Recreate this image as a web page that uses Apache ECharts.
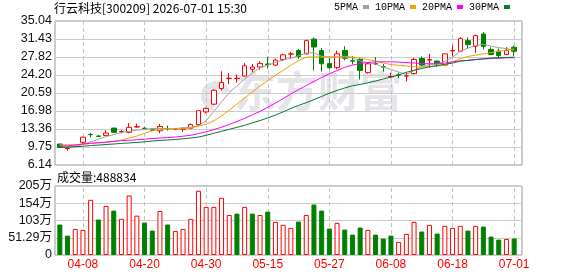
<!DOCTYPE html>
<html><head><meta charset="utf-8">
<script src="https://cdn.jsdelivr.net/npm/echarts@6/dist/echarts.min.js"></script>
<style>html,body{margin:0;padding:0;background:#fff}#c{width:578px;height:276px}</style>
</head><body><div id="c"></div>
<script>
const titleText = '行云科技[300209] 2026-07-01 15:30';
const watermarkText = '东方财富';
const dates = ['04-02','04-03','04-07','04-08','04-09','04-10','04-13','04-14','04-15','04-16','04-17','04-20','04-21','04-22','04-23','04-24','04-27','04-28','04-29','04-30','05-06','05-07','05-08','05-11','05-12','05-13','05-14','05-15','05-18','05-19','05-20','05-21','05-22','05-25','05-26','05-27','05-28','05-29','06-01','06-02','06-03','06-04','06-05','06-08','06-09','06-10','06-11','06-12','06-15','06-16','06-17','06-18','06-22','06-23','06-24','06-25','06-26','06-29','06-30','07-01'];
const xTickLabels = ['04-08','04-20','04-30','05-15','05-27','06-08','06-18','07-01'];
const opens  = [10.35,9.42,9.85,10.7,12.28,11.95,12.05,13.55,12.8,12.7,13.78,13.52,13.18,13.0,13.45,13.3,13.32,13.5,14.25,16.8,18.35,21.5,23.5,23.5,24.0,25.35,25.8,26.4,26.2,27.3,28.4,29.1,28.45,31.4,29.11,26.5,25.66,29.13,27.05,27.32,24.67,26.5,25.85,23.85,24.22,23.98,24.47,27.52,27.2,26.99,26.19,29.05,28.98,31.1,29.97,32.42,29.31,28.98,28.31,29.77];
const closes = [9.68,9.48,9.9,11.72,12.22,11.9,12.55,12.7,12.86,13.7,13.82,13.48,13.15,13.88,13.42,13.34,13.36,14.25,17.04,17.5,21.15,22.68,23.55,23.52,26.05,25.8,26.5,26.32,27.2,28.25,28.45,27.92,31.1,29.82,26.46,25.66,28.45,27.55,26.99,25.13,26.46,26.46,25.78,23.9,24.18,24.02,27.32,26.19,27.3,26.46,28.45,29.11,31.5,30.3,32.09,29.97,28.31,28.11,29.11,28.98];
const lows   = [9.6,9.0,9.78,10.38,11.7,11.8,12.0,12.68,12.5,12.5,13.65,13.28,13.08,12.5,13.05,13.1,12.8,13.3,14.2,16.5,18.2,21.1,22.35,22.7,23.85,24.8,25.3,25.5,26.0,27.0,27.5,27.45,28.3,25.1,24.9,25.33,25.33,27.15,26.33,23.3,24.47,26.19,24.87,23.54,23.54,22.88,24.33,25.99,25.66,25.79,25.99,27.98,28.84,29.44,28.64,29.31,28.18,27.52,28.18,27.98];
const highs  = [10.4,9.8,9.98,11.8,12.58,12.1,13.12,13.58,13.15,14.55,14.45,13.72,13.25,14.38,14.05,13.55,13.75,14.45,17.1,17.7,21.35,24.95,24.6,24.3,26.6,26.4,26.95,27.85,27.5,28.5,28.84,29.42,31.3,31.7,29.64,27.65,29.1,29.97,27.98,27.65,26.62,27.82,26.4,24.67,24.67,24.67,27.65,27.92,28.45,27.12,28.52,30.17,31.83,31.76,32.29,32.82,29.77,29.51,29.77,30.1];
const ma5  = [10.05,9.85,9.8,10.3,10.8,11.3,11.85,12.25,12.69,12.9,13.13,13.3,13.45,13.48,13.45,13.45,13.6,13.72,14.03,15.0,16.9,18.8,20.7,22.0,23.4,24.6,25.66,26.2,26.75,27.2,27.6,28.05,28.6,28.7,27.95,27.8,27.78,27.78,27.65,27.0,26.7,26.4,25.8,25.3,24.8,24.3,25.1,25.9,26.3,26.46,26.95,27.8,28.95,29.6,30.15,30.35,30.0,29.7,29.5,29.2];
const ma10 = [10.2,10.2,10.2,10.3,10.45,10.6,10.75,10.9,11.15,11.55,11.95,12.5,13.0,13.25,13.36,13.36,13.4,13.55,13.95,14.3,15.0,16.0,17.15,18.35,19.57,20.8,22.0,23.07,24.15,25.14,26.16,27.1,27.77,27.85,27.78,27.8,27.85,27.97,27.8,27.6,27.3,27.03,26.6,26.3,26.15,26.0,25.85,25.79,25.85,25.99,26.15,26.85,27.5,27.93,28.18,28.45,28.7,28.95,29.18,29.44];
const ma20 = [9.9,10.0,10.15,10.35,10.5,10.6,10.7,10.85,11.02,11.1,11.2,11.32,11.45,11.55,11.65,11.75,11.92,12.1,12.45,12.8,13.25,13.72,14.27,14.88,15.5,16.2,16.9,17.73,18.56,19.46,20.41,21.26,22.09,22.9,23.7,24.45,25.1,25.75,26.2,26.5,26.7,26.85,26.85,26.85,26.8,26.7,26.6,26.5,26.46,26.46,26.6,26.85,27.03,27.13,27.3,27.4,27.5,27.58,27.65,27.68];
const ma30 = [9.68,9.7,9.81,9.9,10.04,10.14,10.25,10.35,10.48,10.57,10.66,10.8,10.95,11.07,11.16,11.27,11.4,11.55,11.75,12.1,12.5,12.9,13.3,13.7,14.1,14.6,15.05,15.6,16.15,16.8,17.5,18.1,18.65,19.25,19.9,20.55,21.1,21.6,22.05,22.3,22.65,23.0,23.4,23.8,24.2,24.75,25.15,25.5,25.85,26.1,26.35,26.6,26.99,27.15,27.3,27.45,27.6,27.67,27.72,27.78];
const volumes = [906000,577000,776000,746000,1640000,1055000,1460000,1320000,1075000,1770000,1170000,965000,726000,1310000,906000,716000,776000,1075000,1910000,1430000,1430000,1700000,1190000,1230000,1430000,1230000,1190000,1290000,985000,896000,806000,995000,1190000,1500000,1320000,786000,955000,756000,607000,816000,746000,607000,488000,577000,388000,627000,985000,697000,896000,637000,866000,806000,866000,726000,866000,846000,547000,458000,478000,488834];
const volUp = [0,0,1,1,1,0,1,0,1,1,1,0,0,1,0,1,1,1,1,1,1,1,1,0,1,0,1,0,1,1,1,0,1,0,0,0,1,0,0,0,1,0,0,0,1,1,1,0,1,0,1,1,1,0,1,0,0,0,1,0];
const priceMin = 6.14, priceMax = 35.04, priceStep = 3.6125;
const yTickLabels = ['6.14','9.75','13.36','16.98','20.59','24.20','27.82','31.43','35.04'];
const volMax = 2051600, volStep = 512900;
const volTickLabels = ['0','51.29万','103万','154万','205万'];
const maNames = ['5PMA','10PMA','20PMA','30PMA'];
const maColors = ['#a0a0a0','#f2a200','#ff00ff','#007a34'];
const maData = [ma5, ma10, ma20, ma30];

const UP = '#ff0000', DOWN = '#008000';
const candleData = dates.map((d, i) => [opens[i], closes[i], lows[i], highs[i]]);
const volData = volumes.map((v, i) => ({
  value: v,
  itemStyle: volUp[i] ? {color: '#ffffff', borderColor: UP, borderWidth: 1} : {color: DOWN, borderColor: DOWN, borderWidth: 1}
}));
const mkLine = () => ({
  silent: true, symbol: ['none', 'none'], label: {show: false}, z: 1,
  lineStyle: {color: '#c4c4c4', type: [4, 3], width: 1},
  emphasis: {disabled: true},
  data: xTickLabels.map(d => ({xAxis: d}))
});

const chart = echarts.init(document.getElementById('c'));
chart.setOption({
  animation: false,
  backgroundColor: '#ffffff',
  title: {text: titleText, left: 54, top: 1, padding: 0,
    textStyle: {fontSize: 12, fontWeight: 'normal', color: '#000', fontFamily: 'Noto Sans CJK SC', lineHeight: 14}},
  legend: {data: maNames, align: 'right', right: 68, top: 2, padding: 0, icon: 'rect', itemWidth: 6, itemHeight: 4, itemGap: 6,
    selectedMode: false, textStyle: {fontSize: 10, fontFamily: 'Liberation Mono', color: '#000'}},
  graphic: [
    {type: 'arc', z: 0, silent: true, shape: {cx: 216, cy: 96, r: 11, startAngle: Math.PI * 0.55, endAngle: Math.PI * 1.9},
      style: {stroke: '#e4e4e9', lineWidth: 8, fill: null}},
    {type: 'text', left: 234, top: 70, z: 0, silent: true,
      style: {text: watermarkText, font: 'bold 42px "Noto Sans CJK SC"', fill: '#e4e4e9'}},
    {type: 'text', left: 57, top: 171, silent: true,
      style: {text: '成交量:' + volumes[volumes.length - 1], font: '12px "Noto Sans CJK SC"', fill: '#000'}}
  ],
  grid: [
    {left: 56, right: 60, top: 21, height: 144},
    {left: 56, right: 60, top: 186, height: 69},
    {left: 55, right: 56, top: 21, height: 144, show: true, borderColor: '#999', borderWidth: 1},
    {left: 55, right: 56, top: 186, height: 69, show: true, borderColor: '#999', borderWidth: 1}
  ],
  xAxis: [
    {type: 'category', gridIndex: 0, data: dates, boundaryGap: true, axisLine: {show: false}, axisTick: {show: false}, axisLabel: {show: false}, splitLine: {show: false}},
    {type: 'category', gridIndex: 1, data: dates, boundaryGap: true, axisLine: {show: false}, axisTick: {show: false}, splitLine: {show: false},
      axisLabel: {show: true, interval: (i, v) => xTickLabels.indexOf(v) >= 0, color: '#ff0000', fontSize: 12, fontFamily: 'Liberation Sans', margin: 4}},
    {type: 'value', gridIndex: 2, min: 0, max: 1, show: false},
    {type: 'value', gridIndex: 3, min: 0, max: 1, show: false}
  ],
  yAxis: [
    {type: 'value', gridIndex: 0, min: priceMin, max: priceMax, show: false},
    {type: 'value', gridIndex: 1, min: 0, max: volMax, show: false},
    {type: 'value', gridIndex: 2, min: priceMin, max: priceMax, interval: priceStep,
      axisLine: {show: false}, axisTick: {show: false},
      axisLabel: {formatter: v => yTickLabels[Math.round((v - priceMin) / priceStep)], fontSize: 12.5, color: '#111', margin: 3, fontFamily: 'Liberation Sans'},
      splitLine: {show: true, lineStyle: {color: '#cccccc', width: 1}}},
    {type: 'value', gridIndex: 3, min: 0, max: volMax, interval: volStep,
      axisLine: {show: false}, axisTick: {show: false},
      axisLabel: {formatter: v => volTickLabels[Math.round(v / volStep)], fontSize: 12.5, color: '#111', margin: 3, fontFamily: 'Liberation Sans, Noto Sans CJK SC'},
      splitLine: {show: true, lineStyle: {color: '#cccccc', width: 1}}}
  ],
  series: [
    {type: 'candlestick', xAxisIndex: 0, yAxisIndex: 0, data: candleData, barWidth: 5,
      itemStyle: {color: '#ffffff', color0: DOWN, borderColor: UP, borderColor0: DOWN, borderWidth: 1},
      markLine: mkLine()},
    ...maNames.map((n, k) => ({type: 'line', name: n, xAxisIndex: 0, yAxisIndex: 0, data: maData[k], symbol: 'none', z: 3,
      lineStyle: {width: 1, color: maColors[k]}, itemStyle: {color: maColors[k]}})),
    {type: 'bar', xAxisIndex: 1, yAxisIndex: 1, data: volData, barWidth: 5, markLine: mkLine()}
  ]
});
</script></body></html>
